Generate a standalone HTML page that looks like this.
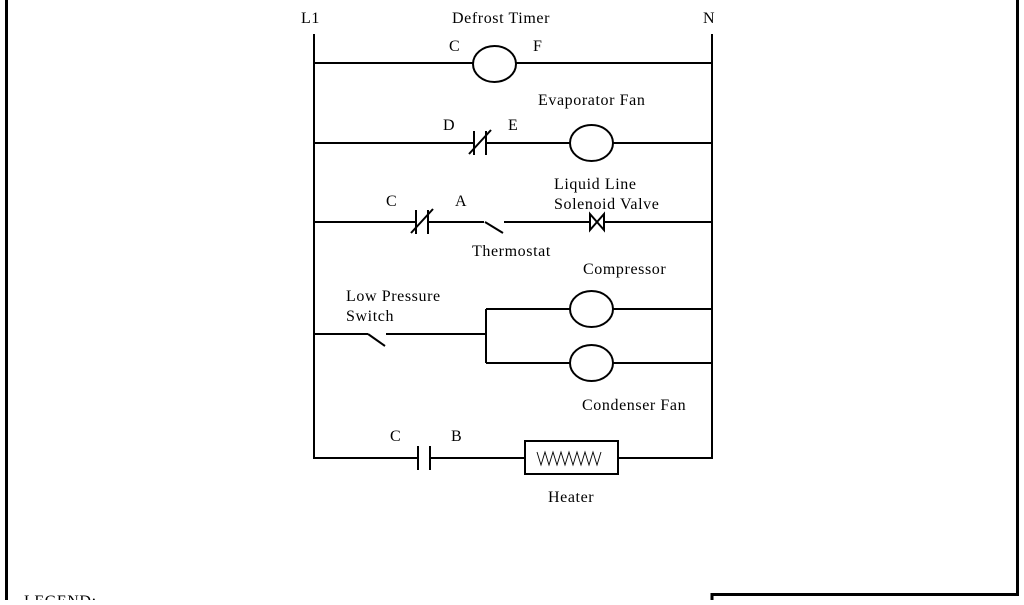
<!DOCTYPE html>
<html><head><style>
body{margin:0;width:1024px;height:600px;background:#fff;overflow:hidden}
text{font-family:"Liberation Serif",serif;font-size:16px;letter-spacing:0.6px;fill:#000}
</style></head><body>
<svg width="1024" height="600" viewBox="0 0 1024 600" xmlns="http://www.w3.org/2000/svg">
<g stroke="#000" stroke-width="3" fill="none">
<line x1="6.5" y1="0" x2="6.5" y2="600"/>
<line x1="1017.5" y1="0" x2="1017.5" y2="595"/>
<polyline points="712,600 712,594.5 1019,594.5"/>
</g>
<g stroke="#000" stroke-width="2" fill="none">
<line x1="314" y1="34" x2="314" y2="459"/>
<line x1="712" y1="34" x2="712" y2="459"/>
<line x1="314" y1="63" x2="473" y2="63"/>
<ellipse cx="494.5" cy="64" rx="21.5" ry="18"/>
<line x1="516" y1="63" x2="712" y2="63"/>
<line x1="314" y1="143" x2="474" y2="143"/>
<line x1="474" y1="131" x2="474" y2="155"/>
<line x1="486" y1="131" x2="486" y2="155"/>
<line x1="469" y1="154" x2="491" y2="130"/>
<line x1="486" y1="143" x2="570" y2="143"/>
<ellipse cx="591.5" cy="143" rx="21.5" ry="18"/>
<line x1="613" y1="143" x2="712" y2="143"/>
<line x1="314" y1="222" x2="416" y2="222"/>
<line x1="416" y1="210" x2="416" y2="234"/>
<line x1="428" y1="210" x2="428" y2="234"/>
<line x1="411" y1="233" x2="433" y2="209"/>
<line x1="428" y1="222" x2="484" y2="222"/>
<line x1="485" y1="222" x2="503" y2="233"/>
<line x1="504" y1="222" x2="590" y2="222"/>
<path d="M590,214 L590,230 L604,214 L604,230 Z"/>
<line x1="604" y1="222" x2="712" y2="222"/>
<line x1="314" y1="334" x2="368" y2="334"/>
<line x1="368" y1="334" x2="385" y2="346"/>
<line x1="386" y1="334" x2="486" y2="334"/>
<line x1="486" y1="309" x2="486" y2="363"/>
<line x1="486" y1="309" x2="570" y2="309"/>
<line x1="486" y1="363" x2="570" y2="363"/>
<ellipse cx="591.5" cy="309" rx="21.5" ry="18"/>
<ellipse cx="591.5" cy="363" rx="21.5" ry="18"/>
<line x1="613" y1="309" x2="712" y2="309"/>
<line x1="613" y1="363" x2="712" y2="363"/>
<line x1="314" y1="458" x2="418" y2="458"/>
<line x1="418" y1="446" x2="418" y2="470"/>
<line x1="430" y1="446" x2="430" y2="470"/>
<line x1="430" y1="458" x2="525" y2="458"/>
<rect x="525" y="441" width="93" height="33"/>
<line x1="618" y1="458" x2="712" y2="458"/>
</g>
<polyline points="537,452 541,465 545,452 549,465 553,452 557,465 561,452 565,465 569,452 573,465 577,452 581,465 585,452 589,465 593,452 597,465 601,452" fill="none" stroke="#000" stroke-width="0.9"/>
<text x="301" y="23">L1</text>
<text x="452" y="23">Defrost Timer</text>
<text x="703" y="23">N</text>
<text x="449" y="51">C</text>
<text x="533" y="51">F</text>
<text x="538" y="105">Evaporator Fan</text>
<text x="443" y="130">D</text>
<text x="508" y="130">E</text>
<text x="554" y="189">Liquid Line</text>
<text x="554" y="209">Solenoid Valve</text>
<text x="386" y="206">C</text>
<text x="455" y="206">A</text>
<text x="472" y="256">Thermostat</text>
<text x="583" y="274">Compressor</text>
<text x="346" y="301">Low Pressure</text>
<text x="346" y="321">Switch</text>
<text x="582" y="410">Condenser Fan</text>
<text x="390" y="441">C</text>
<text x="451" y="441">B</text>
<text x="548" y="502">Heater</text>
<text x="24" y="606">LEGEND:</text>
</svg>
</body></html>
